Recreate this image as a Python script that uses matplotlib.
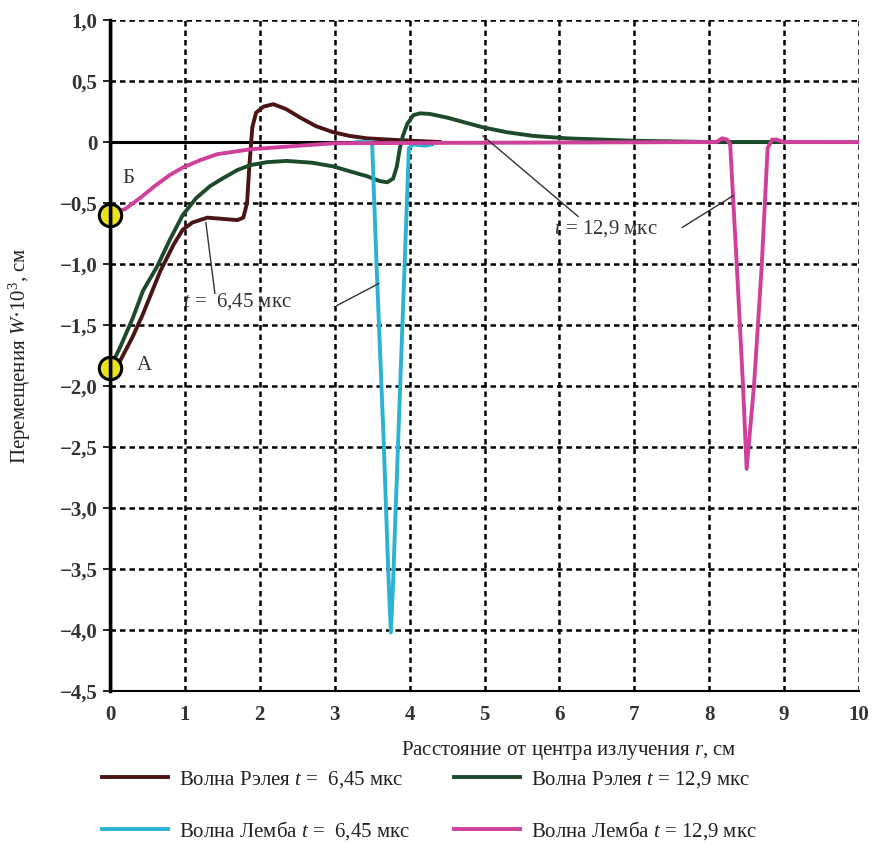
import matplotlib
matplotlib.use("Agg")
import matplotlib.pyplot as plt
from matplotlib.ticker import FuncFormatter

plt.rcParams['font.family'] = ['Liberation Serif', 'DejaVu Serif']
plt.rcParams['mathtext.fontset'] = 'custom'
plt.rcParams['mathtext.rm'] = 'Liberation Serif'
plt.rcParams['mathtext.it'] = 'Liberation Serif:italic'

# ---- data ----
ray645_x = [0, 0.13, 0.3, 0.44, 0.67, 0.85, 0.97, 1.1, 1.3, 1.5, 1.7, 1.78, 1.83, 1.86,
            1.9, 1.95, 2.05, 2.18, 2.35, 2.54, 2.75, 2.98, 3.2, 3.43, 3.87, 4.4]
ray645_y = [-1.85, -1.8, -1.6, -1.41, -1.06, -0.84, -0.72, -0.66, -0.62, -0.63, -0.64, -0.62,
            -0.5, -0.2, 0.12, 0.24, 0.29, 0.31, 0.27, 0.2, 0.13, 0.08, 0.05, 0.03, 0.015, 0.0]

ray129_x = [0, 0.13, 0.3, 0.44, 0.63, 0.8, 0.97, 1.15, 1.34, 1.5, 1.7, 1.87, 2.1, 2.36, 2.7,
            2.98, 3.2, 3.43, 3.6, 3.7, 3.78, 3.83, 3.87, 3.91, 3.97, 4.05, 4.14, 4.27, 4.5,
            4.98, 5.3, 5.65, 6.1, 7.0, 8.0, 9.5]
ray129_y = [-1.85, -1.69, -1.45, -1.22, -1.02, -0.8, -0.6, -0.46, -0.36, -0.3, -0.23, -0.19,
            -0.165, -0.155, -0.17, -0.2, -0.24, -0.28, -0.32, -0.33, -0.3, -0.2, -0.05, 0.05,
            0.15, 0.22, 0.235, 0.23, 0.2, 0.12, 0.08, 0.05, 0.03, 0.01, 0.0, 0.0]

lamb645_x = [3.3, 3.48, 3.5, 3.56, 3.65, 3.72, 3.75, 3.78, 3.85, 3.94, 3.99, 4.05, 4.2, 4.3]
lamb645_y = [0.0, 0.0, -0.02, -1.03, -2.39, -3.6, -4.02, -3.6, -2.4, -0.9, -0.05, -0.02, -0.03, -0.02]

lamb129_x = [0, 0.2, 0.4, 0.6, 0.8, 0.97, 1.2, 1.43, 1.87, 2.54, 3.0, 8.1, 8.17, 8.24, 8.28,
             8.37, 8.45, 8.5, 8.6, 8.7, 8.78, 8.84, 8.9, 8.99, 10]
lamb129_y = [-0.59, -0.55, -0.46, -0.36, -0.27, -0.21, -0.15, -0.1, -0.06, -0.03, -0.01, 0.0,
             0.03, 0.02, -0.02, -1.03, -1.98, -2.68, -1.98, -1.03, -0.05,
             0.02, 0.02, 0.0, 0.0]

point_labels = ['Б', 'А']
point_x = [0, 0]
point_y = [-0.6, -1.85]

x_ticks = list(range(0, 11))
y_ticks = [1.0, 0.5, 0, -0.5, -1.0, -1.5, -2.0, -2.5, -3.0, -3.5, -4.0, -4.5]

labels = ['Волна Рэлея $t$ =  6,45 мкс', 'Волна Рэлея $t$ = 12,9 мкс',
          'Волна Лемба $t$ =  6,45 мкс', 'Волна Лемба $t$ = 12,9 мкс']
colors = ['#4a1512', '#1d4a2a', '#2ab3d4', '#d0409a']

# ---- figure ----
fig = plt.figure(figsize=(8.77, 8.44), dpi=100)
ax = fig.add_axes([110/877, 1 - 691/844, 749/877, 671/844])
ax.set_xlim(0, 10)
ax.set_ylim(-4.5, 1.0)

grid_ls = (0, (2.2, 1.6))
for xv in x_ticks[1:]:
    ax.axvline(xv, color='black', lw=1.8, ls=grid_ls, zorder=1)
for yv in y_ticks:
    if yv == 0:
        continue
    ax.axhline(yv, color='black', lw=1.8, ls=grid_ls, zorder=1)
ax.axhline(0, color='black', lw=2.2, zorder=1.5)

l1, = ax.plot(ray645_x, ray645_y, color=colors[0], lw=2.8, zorder=3)
l2, = ax.plot(ray129_x, ray129_y, color=colors[1], lw=2.8, zorder=3.1)
l3, = ax.plot(lamb645_x, lamb645_y, color=colors[2], lw=2.8, zorder=3.2)
l4, = ax.plot(lamb129_x, lamb129_y, color=colors[3], lw=2.8, zorder=3.3)

ax.scatter(point_x, point_y, s=260, color='#e8e020', edgecolor='black', linewidth=2.2,
           zorder=4, clip_on=False)
ax.axvline(0, color='black', lw=2.5, zorder=5)

ax.text(0.24, -0.3, point_labels[0], fontsize=15, ha='center', va='center', color='#333333')
ax.text(0.46, -1.83, point_labels[1], fontsize=15, ha='center', va='center', color='#333333')

# annotations
ax.text(0.97, -1.31, '$t$ =  6,45 мкс', fontsize=15, ha='left', va='center', color='#333333')
ax.plot([1.4, 1.28], [-1.24, -0.66], color='#333333', lw=1.0, zorder=3.5)
ax.plot([3.03, 3.59], [-1.34, -1.16], color='#333333', lw=1.0, zorder=3.5)
ax.text(5.93, -0.71, '$t$ = 12,9 мкс', fontsize=15, ha='left', va='center', color='#333333')
ax.plot([6.25, 4.98], [-0.61, 0.05], color='#333333', lw=1.0, zorder=3.5)
ax.plot([7.64, 8.32], [-0.70, -0.44], color='#333333', lw=1.0, zorder=3.5)

for s in ['top', 'right']:
    ax.spines[s].set_visible(False)
ax.spines['left'].set_linewidth(2.5)
ax.spines['left'].set_zorder(5)
ax.spines['bottom'].set_linewidth(1.5)

ax.set_xticks(x_ticks)
ax.set_yticks(y_ticks)
fmt = FuncFormatter(lambda v, p: ('0' if abs(v) < 1e-9 else
                                  ('{:.1f}'.format(v).replace('.', ',').replace('-', '\u2212'))))
ax.yaxis.set_major_formatter(fmt)
ax.tick_params(axis='x', length=0, labelsize=15, pad=10)
ax.tick_params(axis='y', length=5, width=1.2, labelsize=15, pad=4)
for t in ax.get_xticklabels() + ax.get_yticklabels():
    t.set_fontweight('bold')
    t.set_color('#333333')

ax.set_ylabel('Перемещения $W$·10$^3$, см', fontsize=15, color='#222222')
ax.yaxis.set_label_coords(-0.103, 0.5)
ax.set_xlabel('Расстояние от центра излучения $r$, см', fontsize=15, color='#222222')
ax.xaxis.set_label_coords(0.613, -0.072)

# legend: row-wise order (matplotlib fills columns first)
leg = fig.legend([l1, l3, l2, l4], [labels[0], labels[2], labels[1], labels[3]],
                 loc='upper left', ncol=2,
                 bbox_to_anchor=(83/877, 1 - 750/844), frameon=False, fontsize=15,
                 handlelength=3.2, labelspacing=1.4, columnspacing=2.1, handletextpad=0.5)
for t in leg.get_texts():
    t.set_color('#222222')

fig.savefig('out.png', dpi=100)
